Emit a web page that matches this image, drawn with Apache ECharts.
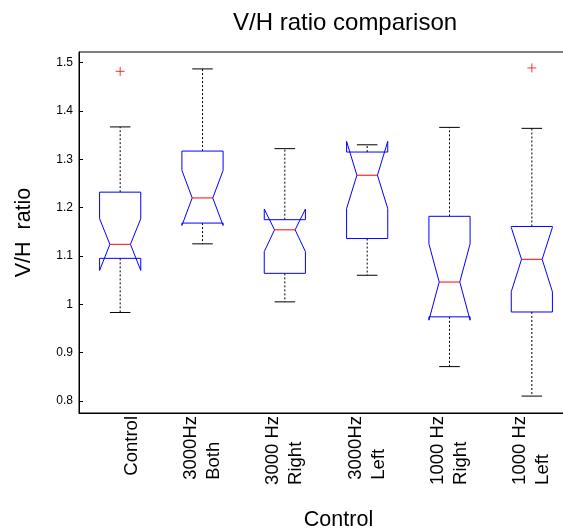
<!DOCTYPE html>
<html>
<head>
<meta charset="utf-8">
<script src="https://cdn.jsdelivr.net/npm/echarts@6/dist/echarts.min.js"></script>
<style>html,body{margin:0;padding:0;background:#fff}#c{width:563px;height:530px}</style>
</head>
<body>
<div id="c"></div>
<script>
// ---- data ----
const categories = ['Control', '3000Hz\nBoth', '3000 Hz\nRight', '3000Hz\nLeft', '1000 Hz\nRight', '1000 Hz\nLeft'];
const lowerWhisker = [0.983, 1.125, 1.005, 1.060, 0.871, 0.810];
const q1 = [1.095, 1.168, 1.064, 1.136, 0.974, 0.984];
const medians = [1.124, 1.220, 1.154, 1.267, 1.046, 1.093];
const q3 = [1.232, 1.317, 1.175, 1.315, 1.182, 1.161];
const upperWhisker = [1.367, 1.487, 1.322, 1.330, 1.366, 1.364];
const notchLow = [1.070, 1.163, 1.109, 1.198, 0.967, 1.026];
const notchHigh = [1.177, 1.277, 1.197, 1.337, 1.125, 1.159];
const outlierCat = [0, 5];
const outlierVal = [1.482, 1.489];
const yTicks = [0.8, 0.9, 1.0, 1.1, 1.2, 1.3, 1.4, 1.5];

const FONT = '"Liberation Sans", Arial, Helvetica, sans-serif';
const boxData = categories.map((c, i) => [i, lowerWhisker[i], q1[i], medians[i], q3[i], upperWhisker[i], notchLow[i], notchHigh[i]]);
const outData = outlierCat.map((c, i) => [c, outlierVal[i]]);

function renderBox(params, api) {
  const i = api.value(0);
  const bw = api.size([1, 0])[0];
  const w = bw * 0.25, wn = bw * 0.125;
  const cx = api.coord([i, api.value(3)])[0];
  const y = v => api.coord([i, v])[1];
  const lw = y(api.value(1)), a = y(api.value(2)), m = y(api.value(3)), b = y(api.value(4)),
        uw = y(api.value(5)), nl = y(api.value(6)), nh = y(api.value(7));
  const dash = { stroke: '#000', lineWidth: 1, lineDash: [2, 2], fill: null };
  const solid = { stroke: '#000', lineWidth: 1, fill: null };
  return {
    type: 'group',
    children: [
      { type: 'line', shape: { x1: cx, y1: b, x2: cx, y2: uw }, style: dash },
      { type: 'line', shape: { x1: cx, y1: a, x2: cx, y2: lw }, style: dash },
      { type: 'line', shape: { x1: cx - wn, y1: uw, x2: cx + wn, y2: uw }, style: solid },
      { type: 'line', shape: { x1: cx - wn, y1: lw, x2: cx + wn, y2: lw }, style: solid },
      { type: 'polygon', shape: { points: [
          [cx - w, a], [cx - w, nl], [cx - wn, m], [cx - w, nh], [cx - w, b],
          [cx + w, b], [cx + w, nh], [cx + wn, m], [cx + w, nl], [cx + w, a]] },
        style: { stroke: '#0000ff', lineWidth: 1, fill: null } },
      { type: 'line', shape: { x1: cx - wn, y1: m, x2: cx + wn, y2: m }, style: { stroke: '#ff0000', lineWidth: 1 } }
    ]
  };
}

const chart = echarts.init(document.getElementById('c'), null, { renderer: 'canvas' });
chart.setOption({
  animation: false,
  backgroundColor: '#fff',
  title: {
    text: 'V/H ratio comparison',
    left: 228, top: 6,
    textStyle: { fontFamily: FONT, fontSize: 24, fontWeight: 'normal', color: '#000' }
  },
  grid: { left: 79, top: 52, width: 494, height: 361, outerBoundsMode: 'none', containLabel: false,
    show: true, borderColor: '#000', borderWidth: 1, backgroundColor: 'transparent' },
  xAxis: {
    type: 'category',
    data: categories,
    name: 'Control',
    nameLocation: 'middle',
    nameGap: 96,
    nameTextStyle: { fontFamily: FONT, fontSize: 21.5, color: '#000', padding: [0, 0, 0, 25] },
    axisLine: { lineStyle: { color: '#000', width: 1 } },
    axisTick: { show: false },
    axisLabel: {
      rotate: 90, margin: 3, interval: 0,
      fontFamily: FONT, fontSize: 18.5, color: '#000',
      formatter: v => {
        const lines = v.split('\n');
        const parts = lines.map(l => '{a|' + l + '}');
        if (lines.length === 1) parts.unshift('{a| }');
        return parts.join('\n');
      },
      rich: { a: { fontFamily: FONT, fontSize: 18.5, color: '#000', align: 'left', lineHeight: 23 } }
    }
  },
  yAxis: {
    type: 'value',
    min: 0.775, max: 1.522,
    name: 'V/H  ratio',
    nameLocation: 'middle',
    nameGap: 44,
    nameTextStyle: { fontFamily: FONT, fontSize: 21.5, color: '#000' },
    axisLine: { show: true, lineStyle: { color: '#000', width: 1 } },
    axisTick: { show: true, inside: true, length: 4, customValues: yTicks, lineStyle: { color: '#000' } },
    axisLabel: { customValues: yTicks, margin: 6, fontFamily: FONT, fontSize: 12, color: '#000',
      formatter: v => String(Math.round(v * 10) / 10) },
    splitLine: { show: false }
  },
  series: [
    {
      type: 'custom',
      renderItem: renderBox,
      data: boxData,
      encode: { x: 0, y: [1, 2, 3, 4, 5, 6, 7] },
      z: 3
    },
    {
      type: 'scatter',
      data: outData,
      symbol: 'path://M0,5L10,5M5,0L5,10',
      symbolSize: 9,
      itemStyle: { color: 'rgba(0,0,0,0)', borderColor: '#ff0000', borderWidth: 1 },
      z: 4
    }
  ]
});
</script>
</body>
</html>
